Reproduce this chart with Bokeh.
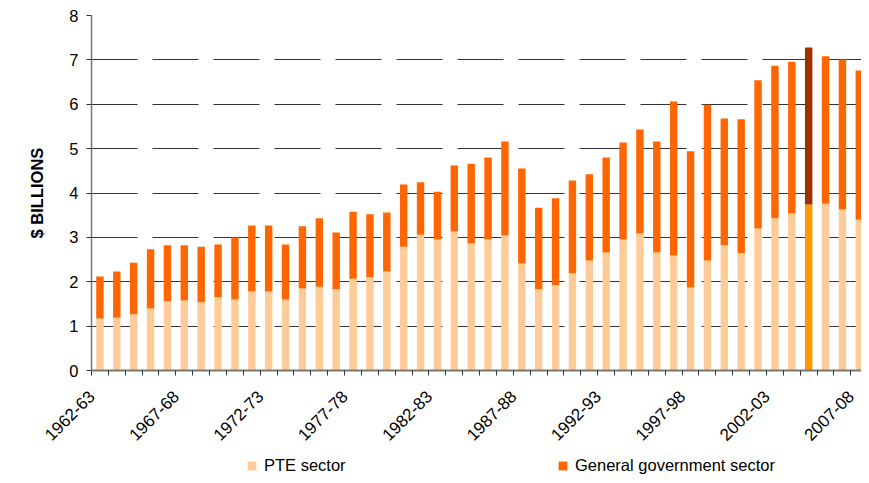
from math import pi
from bokeh.plotting import figure
from bokeh.layouts import column
from bokeh.models import ColumnDataSource, FixedTicker, Legend, LegendItem, Range1d
from bokeh.transform import stack
from bokeh.embed import file_html
from bokeh.resources import INLINE

years = ["1962-63", "1963-64", "1964-65", "1965-66", "1966-67", "1967-68", "1968-69",
         "1969-70", "1970-71", "1971-72", "1972-73", "1973-74", "1974-75", "1975-76",
         "1976-77", "1977-78", "1978-79", "1979-80", "1980-81", "1981-82", "1982-83",
         "1983-84", "1984-85", "1985-86", "1986-87", "1987-88", "1988-89", "1989-90",
         "1990-91", "1991-92", "1992-93", "1993-94", "1994-95", "1995-96", "1996-97",
         "1997-98", "1998-99", "1999-00", "2000-01", "2001-02", "2002-03", "2003-04",
         "2004-05", "2005-06", "2006-07", "2007-08"]

pte = [1.17, 1.19, 1.27, 1.40, 1.56, 1.58, 1.54, 1.65, 1.60, 1.78, 1.78, 1.60,
       1.85, 1.89, 1.83, 2.07, 2.10, 2.23, 2.79, 3.06, 2.95, 3.13, 2.86, 2.95,
       3.04, 2.41, 1.83, 1.92, 2.19, 2.48, 2.66, 2.95, 3.09, 2.66, 2.59, 1.87,
       2.48, 2.82, 2.64, 3.20, 3.43, 3.54, 3.74, 3.76, 3.63, 3.40]

gov = [0.95, 1.04, 1.16, 1.33, 1.26, 1.24, 1.25, 1.19, 1.40, 1.49, 1.49, 1.24,
       1.40, 1.54, 1.28, 1.51, 1.42, 1.33, 1.40, 1.18, 1.08, 1.49, 1.80, 1.85,
       2.12, 2.14, 1.84, 1.96, 2.09, 1.94, 2.14, 2.19, 2.34, 2.50, 3.47, 3.07,
       3.51, 2.86, 3.02, 3.34, 3.44, 3.42, 3.54, 3.32, 3.38, 3.36]

highlight_year = "2004-05"
label_years = ["1962-63", "1967-68", "1972-73", "1977-78", "1982-83",
               "1987-88", "1992-93", "1997-98", "2002-03", "2007-08"]
series_names = ["PTE sector", "General government sector"]

FONT = "Liberation Sans"
PTE_COLOR, GOV_COLOR = "#FFCC99", "#FF6600"
PTE_HI, GOV_HI = "#FF9900", "#993300"

idx = list(range(len(years)))
source = ColumnDataSource(dict(
    x=idx,
    pte=pte,
    gov=gov,
    pte_color=[PTE_HI if y == highlight_year else PTE_COLOR for y in years],
    gov_color=[GOV_HI if y == highlight_year else GOV_COLOR for y in years],
))

p = figure(width=861, height=452,
           x_range=Range1d(-0.5, 45.13), y_range=Range1d(0, 8),
           output_backend="svg", toolbar_location=None,
           min_border_left=91, min_border_right=0,
           min_border_top=15, min_border_bottom=82)
p.outline_line_color = None
p.background_fill_color = "white"

p.vbar(x="x", bottom=0, top=stack("pte"), width=0.44, source=source,
       fill_color="pte_color", line_color=None)
p.vbar(x="x", bottom=stack("pte"), top=stack("pte", "gov"), width=0.44,
       source=source, fill_color="gov_color", line_color=None)

# grid
p.xgrid.visible = False
p.ygrid.ticker = FixedTicker(ticks=list(range(0, 9)))
p.ygrid.grid_line_color = "#333333"
p.ygrid.grid_line_width = 1
p.ygrid.grid_line_dash = "46 15"

# y axis
ya = p.yaxis[0]
ya.ticker = FixedTicker(ticks=list(range(0, 9)))
ya.axis_line_color = "#777777"
ya.axis_line_width = 1.5
ya.major_tick_out = 5
ya.major_tick_in = 0
ya.major_tick_line_color = "#333333"
ya.minor_tick_line_color = None
ya.major_label_text_font = FONT
ya.major_label_text_font_size = "16.5px"
ya.major_label_text_color = "black"
ya.major_label_standoff = 8
ya.axis_label = "$ BILLIONS"
ya.axis_label_text_font = FONT
ya.axis_label_text_font_style = "bold"
ya.axis_label_text_font_size = "16.5px"
ya.axis_label_text_color = "black"
ya.axis_label_standoff = 20

# x axis: rotated labels whose end sits just left of each labelled category
label_shift = 0.49
tick_pos = [years.index(y) - label_shift for y in label_years]
xa = p.xaxis[0]
xa.ticker = FixedTicker(ticks=tick_pos, minor_ticks=[i - 0.5 for i in range(len(years) + 1)])
xa.major_label_overrides = {t: lab for t, lab in zip(tick_pos, label_years)}
xa.major_label_orientation = pi / 4
xa.major_tick_line_color = None
xa.major_tick_out = 0
xa.major_tick_in = 0
xa.minor_tick_out = 5
xa.minor_tick_in = 0
xa.minor_tick_line_color = "#333333"
xa.axis_line_color = "#777777"
xa.axis_line_width = 2
xa.major_label_text_font = FONT
xa.major_label_text_font_size = "17px"
xa.major_label_text_color = "black"
xa.major_label_standoff = 18

# legend strip below the chart
pl = figure(width=861, height=23, x_range=Range1d(0, 1), y_range=Range1d(0, 1),
            output_backend="svg", toolbar_location=None,
            x_axis_type=None, y_axis_type=None,
            min_border_left=91, min_border_right=0, min_border_top=0, min_border_bottom=0)
pl.outline_line_color = None
pl.xgrid.visible = False
pl.ygrid.visible = False
lr_pte = pl.vbar(x=[5], top=[1], width=0.5, fill_color=PTE_COLOR, line_color=None)
lr_gov = pl.vbar(x=[5], top=[1], width=0.5, fill_color=GOV_COLOR, line_color=None)
legend = Legend(items=[LegendItem(label=series_names[0], renderers=[lr_pte]),
                       LegendItem(label=series_names[1], renderers=[lr_gov])],
                location=(155, 0), orientation="horizontal",
                glyph_width=11, glyph_height=11, label_standoff=7,
                label_width=90, spacing=203,
                padding=0, margin=0, border_line_color=None,
                background_fill_alpha=0,
                label_text_font=FONT, label_text_font_size="16.5px",
                label_text_color="black")
pl.add_layout(legend, "center")

layout = column(p, pl, spacing=0)
open("out.html", "w").write(file_html(layout, INLINE))
